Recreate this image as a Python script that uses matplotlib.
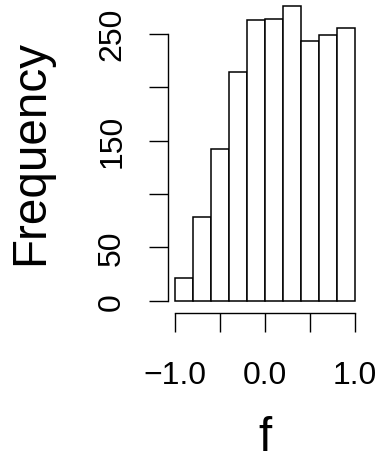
import matplotlib
matplotlib.use("Agg")
import matplotlib.pyplot as plt
import numpy as np

plt.rcParams['font.family'] = ['Liberation Sans', 'DejaVu Sans']

bin_edges = [-1.0, -0.8, -0.6, -0.4, -0.2, 0.0, 0.2, 0.4, 0.6, 0.8, 1.0]
counts = [21, 78, 142, 214, 263, 264, 276, 243, 249, 255]
x_ticks = [-1.0, -0.5, 0.0, 0.5, 1.0]
x_tick_labels = ["\u22121.0", "", "0.0", "", "1.0"]
y_ticks = [0, 50, 100, 150, 200, 250]
y_tick_labels = ["0", "50", "", "150", "", "250"]

W, H = 379, 460
fig = plt.figure(figsize=(W / 100, H / 100), dpi=100)
# plot region in pixels
left, right = 168.1, 362.2
bottom, top = 313.5, 0.0
ax = fig.add_axes([left / W, 1 - bottom / H, (right - left) / W, (bottom - top) / H])

widths = np.diff(bin_edges)
ax.bar(bin_edges[:-1], counts, width=widths, align='edge',
       facecolor='white', edgecolor='black', linewidth=1.1)

ax.set_xlim(-1.08, 1.08)
ax.set_ylim(-11.04, 282.5)

for s in ['top', 'right']:
    ax.spines[s].set_visible(False)
ax.spines['left'].set_bounds(0, 250)
ax.spines['bottom'].set_bounds(-1, 1)
ax.spines['left'].set_linewidth(1.0)
ax.spines['bottom'].set_linewidth(1.0)

ax.set_xticks(x_ticks)
ax.set_xticklabels(x_tick_labels)
ax.set_yticks(y_ticks)
ax.set_yticklabels(y_tick_labels, rotation=90, va='center')

ax.tick_params(axis='both', length=14, width=1.0, labelsize=23, direction='out')
ax.tick_params(axis='x', pad=20)
ax.tick_params(axis='y', pad=15.5)

fig.text(31 / W, 1 - 152 / H, "Frequency", rotation=90, fontsize=34.3,
         ha='center', va='center')
fig.text(265 / W, 1 - 451 / H, "f", fontsize=34.3, ha='center', va='baseline')

fig.savefig("out.png", dpi=100)
